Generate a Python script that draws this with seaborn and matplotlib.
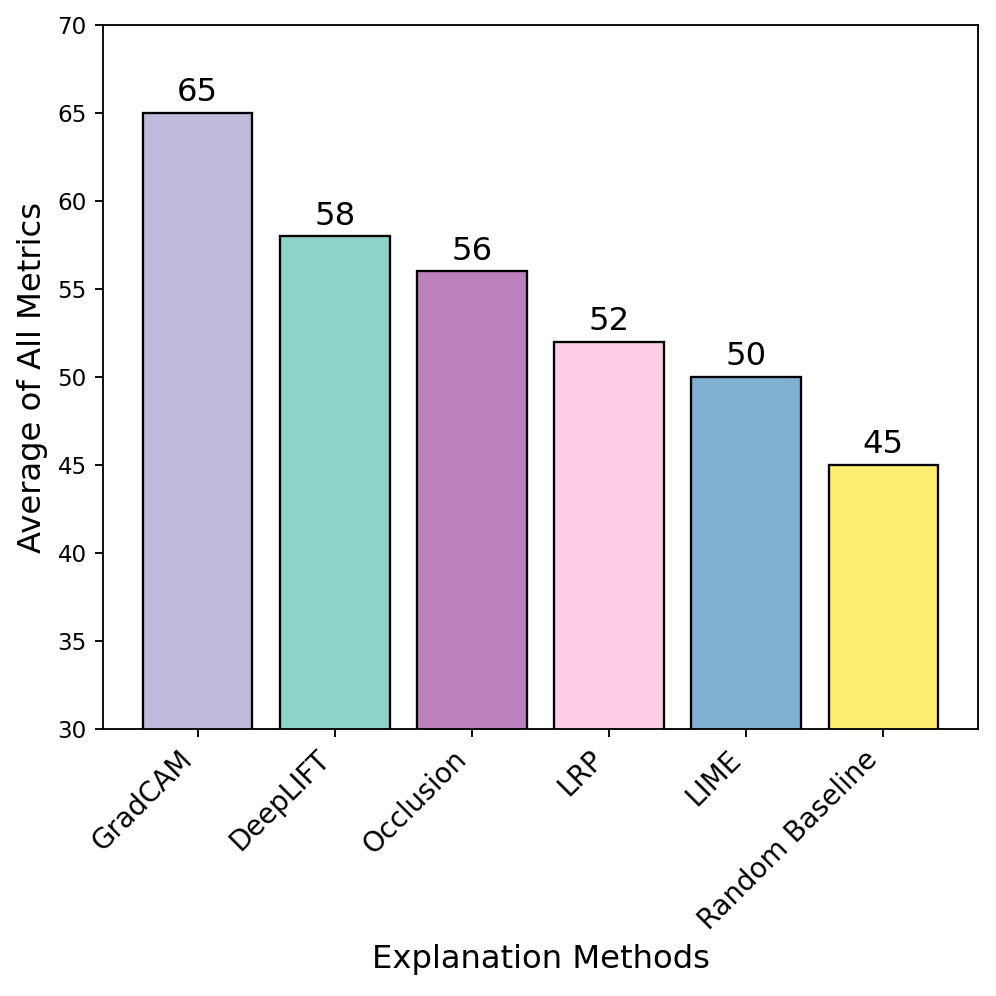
import pandas as pd
import seaborn as sns
import matplotlib.pyplot as plt

# data
methods = ['GradCAM', 'DeepLIFT', 'Occlusion', 'LRP', 'LIME', 'Random Baseline']
scores = [65, 58, 56, 52, 50, 45]
colors = ['#bebada', '#8dd3c7', '#bc80bd', '#fccde5', '#80b1d3', '#ffed6f']

df = pd.DataFrame({'Method': methods, 'Score': scores})

fig, ax = plt.subplots(figsize=(6, 6), dpi=166)

sns.barplot(
    data=df,
    x='Method',
    y='Score',
    hue='Method',
    palette=colors,
    edgecolor='black',
    linewidth=1,
    saturation=1,
    width=0.8,
    legend=False,
    ax=ax
)

for container in ax.containers:
    ax.bar_label(container, fontsize=14, padding=2)

ax.set_xlim(-0.69, len(methods) - 0.31)
ax.set_ylim(30, 70)
ax.set_xlabel('Explanation Methods', fontsize=14)
ax.set_ylabel('Average of All Metrics', fontsize=14)
plt.xticks(rotation=45, ha='right', fontsize=12)
plt.yticks(fontsize=10)

plt.subplots_adjust(left=0.1034, right=0.982, top=0.975, bottom=0.268)
plt.savefig('out.png', dpi=166)
